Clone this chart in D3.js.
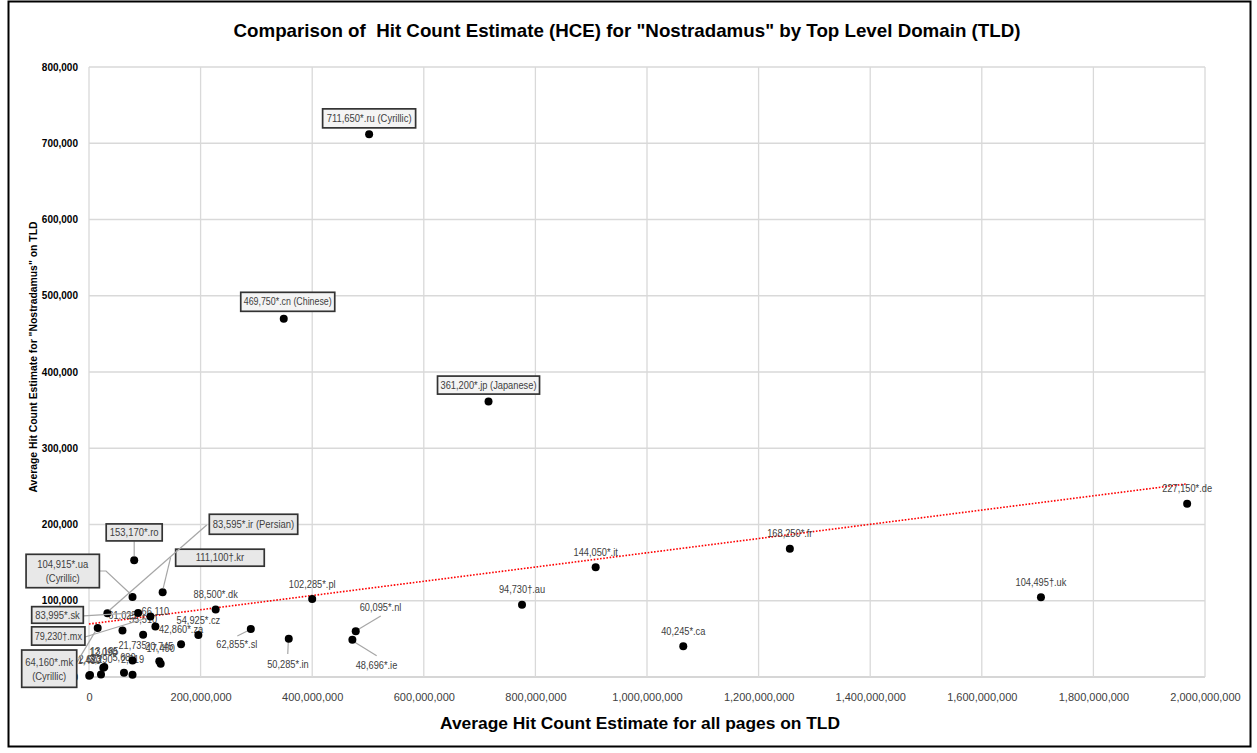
<!DOCTYPE html>
<html><head><meta charset="utf-8">
<script src="https://cdn.jsdelivr.net/npm/d3@7"></script>
<style>
html,body{margin:0;padding:0;background:#fff;}
text{font-family:"Liberation Sans",Arial,sans-serif;}
</style></head>
<body>
<svg id="chart" width="1257" height="753"></svg>
<script>
// ---------- DATA ----------
const tlds = ["ru","cn","jp","de","fr","it","uk","pl","au","dk","sl","nl","cz","in","ie","za","ca",
  "ro","kr","ua","sk","ir","mx","mk",
  null,null,null,null,null,null,null,null,null,null,null,null,null];
const avgAllPagesHCE = [502e6,349e6,716e6,1968e6,1256e6,908e6,1706e6,400e6,776e6,227e6,290e6,478e6,196e6,358e6,472e6,165e6,1065e6,
  81e6,132e6,78e6,88e6,33e6,110e6,15.6e6,
  119e6,60e6,97e6,78e6,126e6,128.5e6,27.4e6,25.6e6,62.7e6,78e6,21.5e6,1.8e6,0.4e6];
const nostradamusHCE = [711650,469750,361200,227150,168250,144050,104495,102285,94730,88500,62855,60095,54925,50285,48696,42860,40245,
  153170,111100,104915,83995,83595,79230,64160,
  66110,61025,55510,21735,20745,17400,13185,12090,5680,2919,3290,2623,1480];
const footMarks = ["*","*","*","*","*","*","†","*","†","*","*","*","*","*","*","*","*",
  "*","†","*","*","*","†","*",
  "","","","","","","","","","","","",""];
const scriptNotes = ["(Cyrillic)","(Chinese)","(Japanese)","","","","","","","","","","","","","","",
  "","","(Cyrillic)","","(Persian)","","(Cyrillic)",
  "","","","","","","","","","","","",""];
const xTicks = [0,200e6,400e6,600e6,800e6,1000e6,1200e6,1400e6,1600e6,1800e6,2000e6];
const yTicks = [0,100000,200000,300000,400000,500000,600000,700000,800000];
const trendIntercept = 69500;       // linear trendline
const trendSlope = 0.0000934;       // per unit of x
const trendXMax = 1968e6;

const chartTitle = 'Comparison of  Hit Count Estimate (HCE) for "Nostradamus" by Top Level Domain (TLD)';
const xTitle = "Average Hit Count Estimate for all pages on TLD";
const yTitle = 'Average Hit Count Estimate for "Nostradamus" on TLD';

// ---------- LAYOUT (label placement, pixels) ----------
const boxLayout = {
  ru:{dx:0,dy:-16,w:93,h:19,fill:"#f4f4f4"},
  cn:{dx:4,dy:-17,w:94,h:19,fill:"#f4f4f4"},
  jp:{dx:0,dy:-16.5,w:102,h:18,fill:"#f4f4f4"},
  ro:{dx:0,dy:-27.8,w:56,h:17,fill:"#e8e8e8",leader:[[0,-19],[0,-4]]},
  kr:{dx:57.3,dy:-34.6,w:88.6,h:17,fill:"#e8e8e8",leader:[[8,-35],[0.5,-4]]},
  ir:{dx:146.1,dy:-89,w:88.4,h:20,fill:"#e8e8e8",leader:[[99.3,-88.3],[2,-3]]},
  ua:{dx:-69.8,dy:-26,w:73.3,h:33.4,fill:"#e8e8e8",twoLine:true,leader:[[-33.2,-26],[-26.5,-26],[-2,-3]]},
  sk:{dx:-80.6,dy:2,w:51.6,h:16.6,fill:"#e8e8e8",leader:[[-54.8,3],[-4,0]]},
  mx:{dx:-92.1,dy:19.4,w:53.3,h:18.3,fill:"#e8e8e8",leader:[[-65.4,20.4],[-3.4,1.4]]},
  mk:{dx:-48.5,dy:40.6,w:55,h:37.3,fill:"#e8e8e8",twoLine:true,leader:[[-20.7,34],[-2.2,3]]}
};
const movedLabels = {
  sl:{dx:-14,dy:19.4,leader:[[-13.5,7],[-1.5,1]]},
  in:{dx:-0.8,dy:29.8,leader:[[-1,15.3],[-0.5,3.3]]},
  nl:{dx:24.8,dy:-20,leader:[[25,-15.2],[1.6,-1.2]]},
  ie:{dx:24.1,dy:29.3,leader:[[24.3,15.8],[1.6,1.8]]}
};

// ---------- DRAW ----------
const svg = d3.select("#chart");
const x = d3.scaleLinear().domain([0,2000e6]).range([89,1205]);
const y = d3.scaleLinear().domain([0,800000]).range([677,67]);
const fmt = d3.format(",");

svg.append("rect").attr("x",8.5).attr("y",1.5).attr("width",1242).attr("height",745)
  .attr("fill","#fff").attr("stroke","#000").attr("stroke-width",2);

// grid
svg.append("g").selectAll("line").data(yTicks).join("line")
  .attr("x1",x(0)).attr("x2",x(2000e6)).attr("y1",d=>y(d)).attr("y2",d=>y(d))
  .attr("stroke",d=>d===0?"#c8c8c8":"#d9d9d9").attr("stroke-width",1.3);
svg.append("g").selectAll("line").data(xTicks).join("line")
  .attr("y1",y(0)).attr("y2",y(800000)).attr("x1",d=>x(d)).attr("x2",d=>x(d))
  .attr("stroke","#d9d9d9").attr("stroke-width",1.3);

// axes via d3
const xAxis = svg.append("g").attr("transform",`translate(0,${y(0)})`)
  .call(d3.axisBottom(x).tickValues(xTicks).tickFormat(fmt).tickSize(0).tickPadding(16));
xAxis.select(".domain").remove();
xAxis.selectAll("text").attr("font-size",11).attr("fill","#404040")
  .attr("font-family","'Liberation Sans',Arial,sans-serif");

const yAxis = svg.append("g").attr("transform",`translate(${x(0)},0)`)
  .call(d3.axisLeft(y).tickValues(yTicks).tickFormat(fmt).tickSize(0).tickPadding(11));
yAxis.select(".domain").remove();
yAxis.selectAll("text").attr("font-size",10).attr("font-weight","bold").attr("fill","#000")
  .attr("font-family","'Liberation Sans',Arial,sans-serif");

// titles
svg.append("text").attr("x",627).attr("y",37).attr("text-anchor","middle").style("white-space","pre")
  .attr("font-size",19).attr("font-weight","bold").attr("textLength",787).attr("lengthAdjust","spacingAndGlyphs")
  .text(chartTitle);
svg.append("text").attr("x",640).attr("y",729).attr("text-anchor","middle")
  .attr("font-size",17).attr("font-weight","bold").attr("textLength",400).attr("lengthAdjust","spacingAndGlyphs")
  .text(xTitle);
svg.append("text").attr("transform","translate(37,357) rotate(-90)").attr("text-anchor","middle")
  .attr("font-size",11).attr("font-weight","bold").attr("textLength",271).attr("lengthAdjust","spacingAndGlyphs")
  .text(yTitle);

const pts = tlds.map((t,i)=>({tld:t,xv:avgAllPagesHCE[i],yv:nostradamusHCE[i],mark:footMarks[i],note:scriptNotes[i]}));
pts.forEach(p=>{p.px=x(p.xv);p.py=y(p.yv);p.main=fmt(p.yv)+p.mark+(p.tld?"."+p.tld:"");});

// trendline
svg.append("line").attr("x1",x(0)).attr("y1",y(trendIntercept))
  .attr("x2",x(trendXMax)).attr("y2",y(trendIntercept+trendSlope*trendXMax))
  .attr("stroke","#ff0000").attr("stroke-width",1.6).attr("stroke-dasharray","1.6,1.6");

// narrow text helper (mimics the condensed original font)
function squeeze(sel, factor){
  sel.each(function(){
    const L=this.getComputedTextLength();
    d3.select(this).attr("textLength",L*factor).attr("lengthAdjust","spacingAndGlyphs");
  });
}

// plain labels
const plain = pts.filter(p=>!boxLayout[p.tld]);
const lg = svg.append("g");
plain.forEach(p=>{
  const m = movedLabels[p.tld];
  if(m){
    lg.append("polyline").attr("points",m.leader.map(o=>[p.px+o[0],p.py+o[1]].join(",")).join(" "))
      .attr("fill","none").attr("stroke","#a6a6a6").attr("stroke-width",1.2);
  }
  const t = lg.append("text").attr("x",p.px+(m?m.dx:0)).attr("y",p.py+(m?m.dy:-11.5))
    .attr("text-anchor","middle").attr("font-size",10.5).attr("fill","#404040").text(p.main);
  squeeze(t,0.88);
});

// dots
svg.append("g").selectAll("circle").data(pts).join("circle")
  .attr("cx",d=>d.px).attr("cy",d=>d.py).attr("r",4).attr("fill","#000");

// boxed labels
const bg = svg.append("g");
pts.filter(p=>boxLayout[p.tld]).forEach(p=>{
  const b = boxLayout[p.tld];
  if(b.leader){
    bg.append("polyline").attr("points",b.leader.map(o=>[p.px+o[0],p.py+o[1]].join(",")).join(" "))
      .attr("fill","none").attr("stroke","#a6a6a6").attr("stroke-width",1.2);
  }
  const cx=p.px+b.dx, cy=p.py+b.dy;
  bg.append("rect").attr("x",cx-b.w/2).attr("y",cy-b.h/2).attr("width",b.w).attr("height",b.h)
    .attr("fill",b.fill).attr("stroke","#333").attr("stroke-width",1.7);
  const lines = b.twoLine ? [[p.main,cy-3],[p.note,cy+11]] : [[p.main+(p.note?" "+p.note:""),cy+3.6]];
  lines.forEach(([s,yy])=>{
    const t = bg.append("text").attr("x",cx).attr("y",yy).attr("text-anchor","middle")
      .attr("font-size",10.5).attr("fill","#404040").text(s);
    const L = t.node().getComputedTextLength();
    const maxL = b.w-6;
    t.attr("textLength",Math.min(L*0.9,maxL)).attr("lengthAdjust","spacingAndGlyphs");
  });
});
</script>
</body></html>
